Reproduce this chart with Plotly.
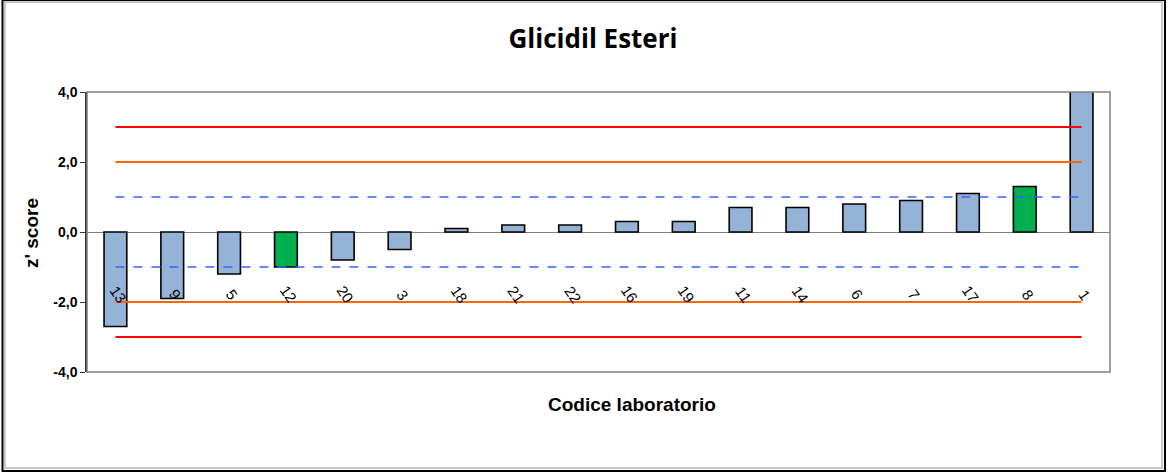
import plotly.graph_objects as go

labs = ["13", "9", "5", "12", "20", "3", "18", "21", "22", "16", "19", "11", "14", "6", "7", "17", "8", "1"]
zscores = [-2.7, -1.9, -1.2, -1.0, -0.8, -0.5, 0.1, 0.2, 0.2, 0.3, 0.3, 0.7, 0.7, 0.8, 0.9, 1.1, 1.3, 5.0]
highlight = ["12", "8"]
y_ticks = [-4, -2, 0, 2, 4]
y_ticktext = ["-4,0", "-2,0", "0,0", "2,0", "4,0"]
limits = [
    (3, "#ff0000", "solid", 2),
    (-3, "#ff0000", "solid", 2),
    (2, "#ff6600", "solid", 2),
    (-2, "#ff6600", "solid", 2),
    (1, "#3366ff", "dash", 1.5),
    (-1, "#3366ff", "dash", 1.5),
]
label_y = -1.78

colors = ["#00b050" if l in highlight else "#95b3d7" for l in labs]

fig = go.Figure()
fig.add_trace(go.Bar(
    x=labs, y=zscores, marker=dict(color=colors, line=dict(color="#000000", width=1.6)),
    width=0.4, showlegend=False, hoverinfo="x+y"))

for val, col, dash, w in limits:
    fig.add_trace(go.Scatter(
        x=labs, y=[val] * len(labs), mode="lines",
        line=dict(color=col, dash=dash, width=w), showlegend=False, hoverinfo="skip"))

for i, l in enumerate(labs):
    fig.add_annotation(x=i, y=label_y, text=l, showarrow=False, textangle=55,
                       xshift=3, font=dict(family="Liberation Sans, Arial", size=15, color="#000000"))

PW, PH = 1023, 280
# axis titles as paper-anchored annotations
fig.add_annotation(xref="paper", yref="paper", x=(632 - 87) / PW, y=-(404 - 372) / PH,
                   text="<b>Codice laboratorio</b>", showarrow=False, xanchor="center", yanchor="middle",
                   font=dict(family="Liberation Sans, Arial", size=19, color="#000000"))
fig.add_annotation(xref="paper", yref="paper", x=-(87 - 31) / PW, y=(372 - 233) / PH,
                   text="<b>z' score</b>", showarrow=False, textangle=-90, xanchor="center", yanchor="middle",
                   font=dict(family="Liberation Sans, Arial", size=19, color="#000000"))

fig.update_layout(
    width=1169, height=476,
    margin=dict(l=87, r=59, t=92, b=104),
    paper_bgcolor="#ffffff", plot_bgcolor="#ffffff",
    font=dict(family="Liberation Sans, Arial", color="#000000"),
    title=dict(text="<b>Glicidil Esteri</b>", x=593 / 1169, xanchor="center", y=1 - 39 / 476, yanchor="middle",
               font=dict(family="Open Sans, Liberation Sans", size=26, color="#000000")),
    bargap=0.6,
    xaxis=dict(type="category", categoryorder="array", categoryarray=labs,
               range=[-0.5, len(labs) - 0.5],
               showticklabels=False, showline=False, showgrid=False, zeroline=False),
    yaxis=dict(range=[-4, 4], tickvals=y_ticks, ticktext=y_ticktext, showgrid=False,
               zeroline=True, zerolinecolor="#808080", zerolinewidth=1,
               showline=True, linecolor="#333333", linewidth=1.5,
               ticks="outside", ticklen=5, tickcolor="#333333",
               tickfont=dict(family="Liberation Sans, Arial", size=14, weight="bold")),
    shapes=[
        dict(type="rect", xref="paper", yref="paper", x0=0, x1=1, y0=0, y1=1,
             line=dict(color="#808080", width=1.5), layer="above"),
        dict(type="rect", xref="paper", yref="paper",
             x0=-82 / PW, x1=1 + 52 / PW, y0=-96 / PH, y1=1 + 90 / PH,
             line=dict(color="#c8c8c8", width=2)),
        dict(type="rect", xref="paper", yref="paper",
             x0=-84.5 / PW, x1=1 + 55 / PW, y0=-99 / PH, y1=1 + 92 / PH,
             line=dict(color="#000000", width=2)),
    ],
)
fig.write_html("out.html", post_script="document.body.style.margin='0px';",
               config={"displayModeBar": False})
